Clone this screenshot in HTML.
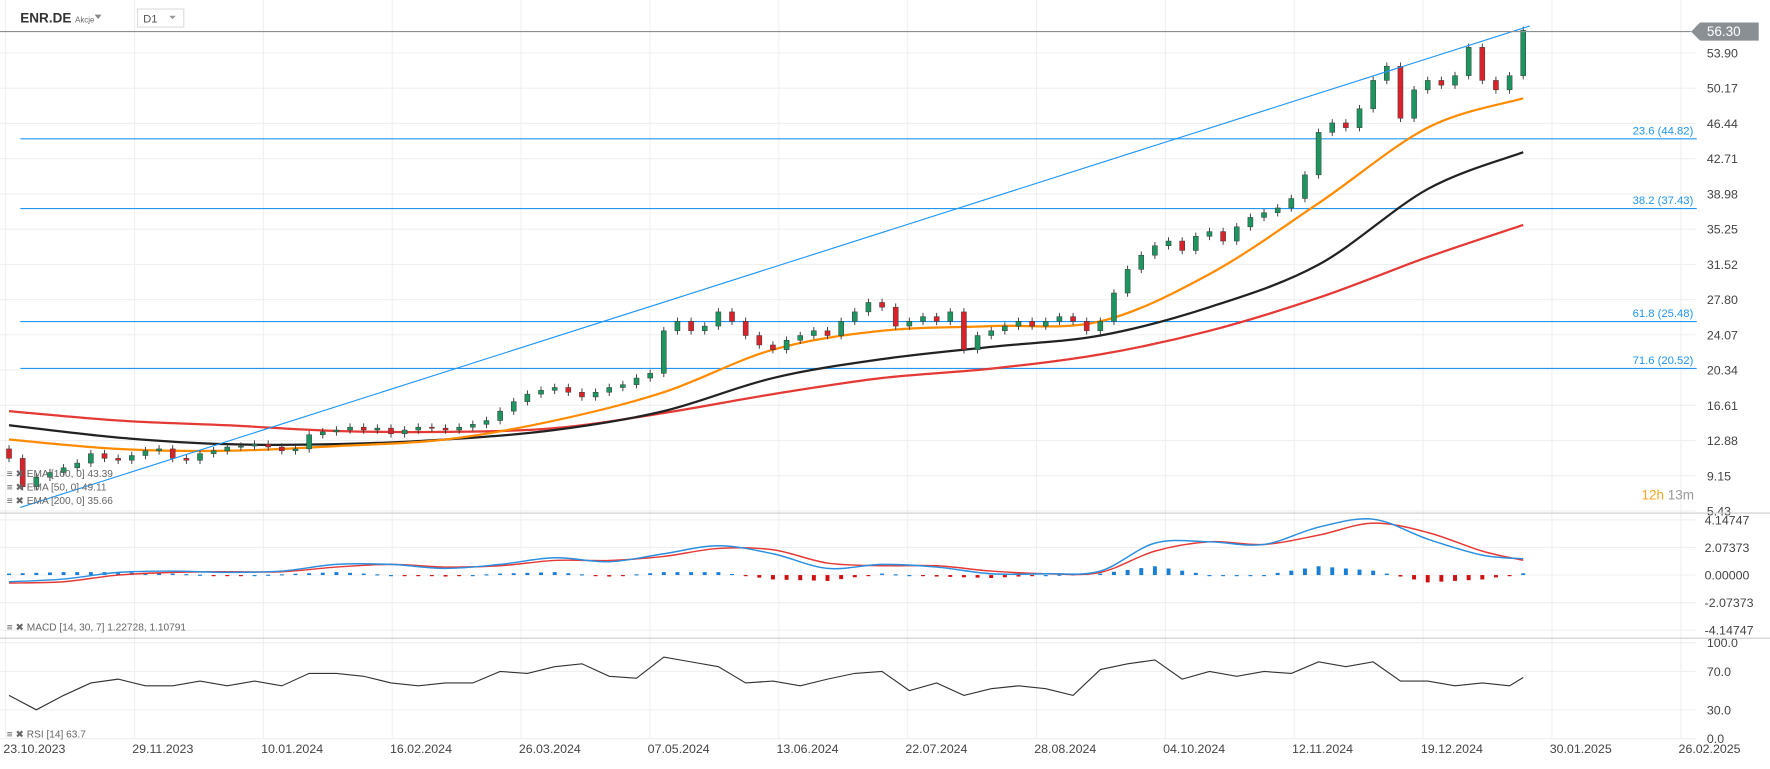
<!DOCTYPE html>
<html><head><meta charset="utf-8"><style>
html,body{margin:0;padding:0;background:#fff;overflow:hidden}
svg{display:block;font-family:"Liberation Sans",sans-serif}
</style></head><body>
<svg id="c" width="1770" height="769" viewBox="0 0 1570 682" preserveAspectRatio="none" xmlns="http://www.w3.org/2000/svg">
<g id="grid"></g>
<g id="fib"></g>
<g id="ema"></g>
<g id="candles"></g>
<g id="macd"></g>
<g id="rsi"></g>
<g id="axes"></g>
<line x1="18" y1="450" x2="1357" y2="23" stroke="#2196f3" stroke-width="1"/>
<line x1="0" y1="28" x2="1500" y2="28" stroke="#8a8f94" stroke-width="1"/>
<line x1="0" y1="455" x2="1570" y2="455" stroke="#ccc"/>
<line x1="0" y1="566" x2="1570" y2="566" stroke="#ccc"/>
<g><polygon points="1500,28 1508,20 1560,20 1560,36 1508,36" fill="#8a8f94"/><text x="1514" y="32" font-size="12" fill="#fff">56.30</text></g>
<text x="18" y="20" font-size="12" font-weight="bold" fill="#333">ENR.DE <tspan font-size="7" font-weight="normal" fill="#666">Akcje</tspan></text>
<polygon points="84,13 90,13 87,17" fill="#888"/>
<rect x="122" y="8" width="41" height="16" fill="#fff" stroke="#ddd"/>
<text x="127" y="20" font-size="10" fill="#555">D1</text>
<polygon points="150,14 156,14 153,17" fill="#999"/>
<text x="1456" y="443" font-size="12" fill="#f5a623">12h <tspan fill="#999">13m</tspan></text>
<g font-size="9" fill="#666">
<text x="6" y="423">≡ ✖ EMA [100, 0] 43.39</text>
<text x="6" y="435">≡ ✖ EMA [50, 0] 49.11</text>
<text x="6" y="447">≡ ✖ EMA [200, 0] 35.66</text>
</g>
<text x="6" y="559" font-size="9" fill="#666">≡ ✖ MACD [14, 30, 7] 1.22728, 1.10791</text>
<text x="6" y="654" font-size="9" fill="#666">≡ ✖ RSI [14] 63.7</text>
</svg>
<script>
const closes=[11,8,9,9.5,10,10.5,11.5,11,10.8,11.3,11.8,12,11,10.8,11.5,11.8,12.2,12.3,12.5,12.2,11.8,12,13.5,13.8,14,14.3,14,14.2,13.6,14,14.3,14.2,14,14.3,14.6,15,16,17,17.8,18.2,18.5,18,17.5,18,18.5,18.8,19.5,20,24.5,25.5,24.5,25,26.5,25.5,24,23,22.5,23.5,24,24.5,24,25.5,26.5,27.5,27,25,25.5,26,25.5,26.5,22.5,24,24.5,25,25.5,25,25.5,26,25.5,24.5,25.5,28.5,31,32.5,33.5,34,33,34.5,35,34,35.5,36.5,37,37.5,38.5,41,45.5,46.5,46,48,51,52.5,47,50,51,50.5,51.5,54.5,51,50,51.5,56.3];
const emaKnots=[0,8,16,24,32,40,48,56,64,72,80,88,96,104,111];
const ema50=[13,12,11.8,12.3,13,15,18,22.5,24.5,25,25.5,30.5,38,46,49.1];
const ema100=[14.5,13.2,12.5,12.5,13,14,16,19.5,21.5,22.8,24,27,31.5,39.5,43.4];
const ema200=[16,15,14.5,13.9,13.8,14.2,15.8,17.8,19.5,20.5,22,24.5,28,32.3,35.7];
const macdKnots=[0,4,8,12,16,20,24,28,32,36,40,44,48,52,56,60,64,68,72,76,80,84,88,92,96,100,104,108,111];
const macdLine=[-0.5,-0.3,0.2,0.3,0.2,0.3,0.8,0.8,0.5,0.8,1.3,1.0,1.6,2.2,1.6,0.5,0.8,0.6,0.1,0.1,0.3,2.4,2.5,2.3,3.6,4.2,2.7,1.5,1.23];
const signalLine=[-0.6,-0.5,0.0,0.2,0.25,0.25,0.6,0.8,0.6,0.7,1.1,1.1,1.4,2.0,1.9,0.9,0.7,0.7,0.3,0.1,0.2,1.8,2.5,2.3,3.0,3.9,3.2,1.8,1.11];
const rsiKnots=[];for(let k=0;k<56;k++)rsiKnots.push(k*2);rsiKnots.push(111);
const rsiVals=[45,30,45,58,62,55,55,60,55,60,55,68,68,65,58,55,58,58,70,68,75,78,65,63,85,80,75,58,60,55,62,68,70,50,58,45,52,55,52,45,72,78,82,62,70,65,70,68,80,75,80,60,60,55,58,55,63.7];
const priceTicks=["53.90","50.17","46.44","42.71","38.98","35.25","31.52","27.80","24.07","20.34","16.61","12.88","9.15","5.43"];
const macdTicks=["4.14747","2.07373","0.00000","-2.07373","-4.14747"];
const rsiTicks=["100.0","70.0","30.0","0.0"];
const dateLabels=["23.10.2023","29.11.2023","10.01.2024","16.02.2024","26.03.2024","07.05.2024","13.06.2024","22.07.2024","28.08.2024","04.10.2024","12.11.2024","19.12.2024","30.01.2025","26.02.2025"];
const fibLevels=[["23.6",44.82],["38.2",37.43],["61.8",25.48],["71.6",20.52]];

const NS="http://www.w3.org/2000/svg";
function mk(p,t,a){const e=document.createElementNS(NS,t);for(const k in a)e.setAttribute(k,a[k]);p.appendChild(e);return e;}
const xB=i=>8+i*12.1;
const yP=p=>47+(53.9-p)*8.38;
const yM=v=>510-v*11.8;
const yR=v=>655-v*0.85;
const xD=i=>5+i*114.3;
function interp(kn,vals,i){for(let j=0;j<kn.length-1;j++){if(i<=kn[j+1]){const t=(i-kn[j])/(kn[j+1]-kn[j]);return vals[j]+t*(vals[j+1]-vals[j]);}}return vals[vals.length-1];}
function smooth(pts){let d="M"+pts[0][0]+","+pts[0][1];for(let i=0;i<pts.length-1;i++){const p0=pts[i-1]||pts[i],p1=pts[i],p2=pts[i+1],p3=pts[i+2]||p2;const c1x=p1[0]+(p2[0]-p0[0])/6,c1y=p1[1]+(p2[1]-p0[1])/6,c2x=p2[0]-(p3[0]-p1[0])/6,c2y=p2[1]-(p3[1]-p1[1])/6;d+=`C${c1x},${c1y} ${c2x},${c2y} ${p2[0]},${p2[1]}`;}return d;}

const grid=document.getElementById('grid'),axes=document.getElementById('axes');
dateLabels.forEach((d,i)=>{
 mk(grid,'line',{x1:xD(i),y1:0,x2:xD(i),y2:655,stroke:'#f0f0f0'});
 const t=mk(axes,'text',{x:xD(i)-2,y:668,'font-size':11,fill:'#444'});t.textContent=d;
 
 
});
priceTicks.forEach(s=>{const y=yP(+s);mk(grid,'line',{x1:0,y1:y,x2:1505,y2:y,stroke:'#f0f0f0'});
 const t=mk(axes,'text',{x:1514,y:y+4,'font-size':11,fill:'#444'});t.textContent=s;
 
 });
macdTicks.forEach(s=>{const y=yM(+s);mk(grid,'line',{x1:0,y1:y,x2:1505,y2:y,stroke:'#f0f0f0'});
 const t=mk(axes,'text',{x:1512,y:y+4,'font-size':11,fill:'#444'});t.textContent=s;
 
 });
rsiTicks.forEach(s=>{const y=yR(+s);mk(grid,'line',{x1:0,y1:y,x2:1505,y2:y,stroke:'#f0f0f0'});
 const t=mk(axes,'text',{x:1514,y:y+4,'font-size':11,fill:'#444'});t.textContent=s;
 
 });

const fib=document.getElementById('fib');
fibLevels.forEach(f=>{const y=yP(f[1]);
 const l=mk(fib,'line',{x1:18,y1:y,x2:1505,y2:y,stroke:'#2196f3','stroke-width':1});
 
 
 const t=mk(fib,'text',{x:1502,y:y-4,'font-size':10,fill:'#2196f3','text-anchor':'end'});t.textContent=f[0]+" ("+f[1].toFixed(2)+")";
 
 });

const ema=document.getElementById('ema');
[[ema200,'#e53935','ema-200-line'],[ema100,'#222','ema-100-line'],[ema50,'#ff8c00','ema-50-line']].forEach(s=>{
 const pts=emaKnots.map((k,j)=>[xB(k),yP(s[0][j])]);
 const p=mk(ema,'path',{d:smooth(pts),fill:'none',stroke:s[1],'stroke-width':2});
 
 });

const cg=document.getElementById('candles');
closes.forEach((c,i)=>{const o=i?closes[i-1]:12;const up=c>=o;const col=up?'#1e9460':'#d8232a';
 const hi=Math.max(o,c)+0.4,lo=Math.min(o,c)-0.4;const x=xB(i);
 const g=mk(cg,'g',{});
 
 
 mk(g,'line',{x1:x,y1:yP(hi),x2:x,y2:yP(lo),stroke:'#333','stroke-width':0.8});
 const yt=yP(Math.max(o,c)),yb=yP(Math.min(o,c));
 mk(g,'rect',{x:x-2.25,y:yt,width:4.5,height:Math.max(1,yb-yt),fill:col,stroke:'#333','stroke-width':0.4});});

const mg=document.getElementById('macd');
closes.forEach((c,i)=>{const h=interp(macdKnots,macdLine,i)-interp(macdKnots,signalLine,i);
 const y0=yM(0),y1=yM(h*1.1);
 const r=mk(mg,'rect',{x:xB(i)-1.75,y:Math.min(y0,y1),width:3.5,height:Math.max(1,Math.abs(y1-y0)),fill:h>=0?'#1a7fd4':'#d01010'});
 
 });
[[signalLine,'#e53935','macd-signal-line'],[macdLine,'#2a8fe0','macd-line']].forEach(s=>{
 const pts=macdKnots.map((k,j)=>[xB(k),yM(s[0][j])]);
 const p=mk(mg,'path',{d:smooth(pts),fill:'none',stroke:s[1],'stroke-width':1.3});
 
 });

const rg=document.getElementById('rsi');
const rp=mk(rg,'path',{d:"M"+rsiKnots.map((k,j)=>xB(k)+","+yR(rsiVals[j])).join("L"),fill:'none',stroke:'#333','stroke-width':1});


</script>
</body></html>
